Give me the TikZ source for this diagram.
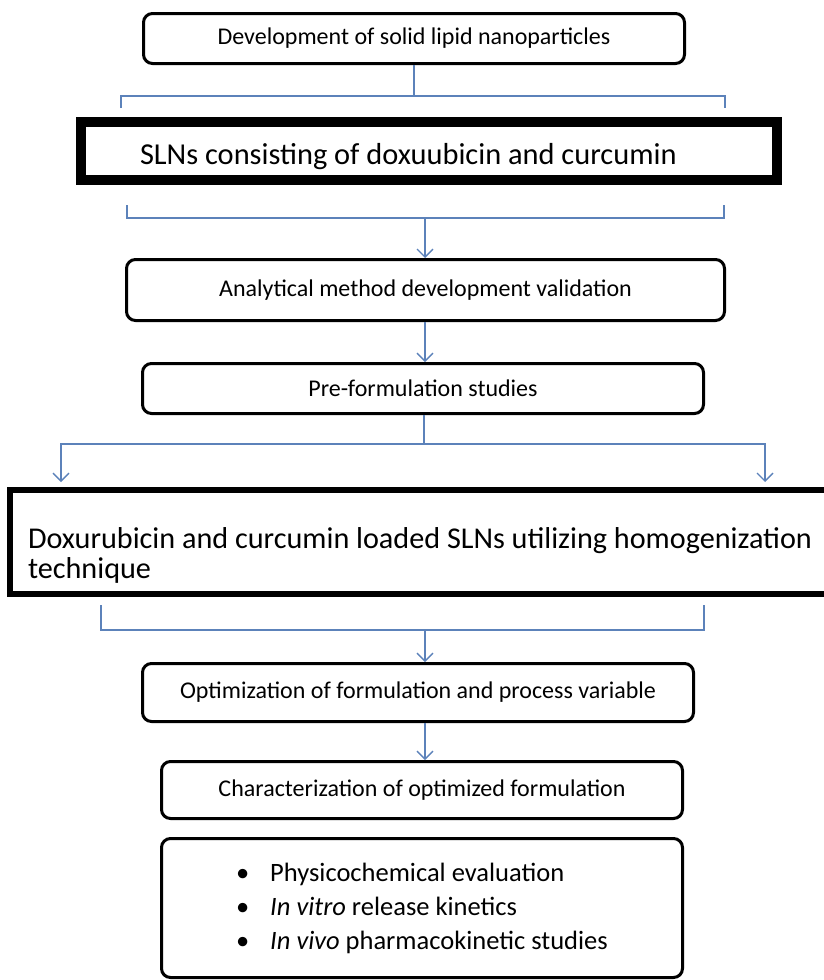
\documentclass[tikz,border=0pt]{standalone}
\usepackage{fontspec}
\setmainfont{Carlito}
\usetikzlibrary{arrows.meta, positioning}
\definecolor{linkblue}{RGB}{92,130,186}

\begin{document}
\begin{tikzpicture}[x=1pt, y=-1pt,
    stage/.style={rectangle, draw, rounded corners=9pt, line width=3pt, inner sep=0pt,
      font=\fontsize{24}{28}\selectfont},
    bigstage/.style={rectangle, draw, line width=10pt, inner ysep=0pt, align=flush left},
    link/.style={draw=linkblue, line width=1.4pt},
    >={Straight Barb[length=8pt, width=16pt]}
    ]
    \useasboundingbox (0,0) rectangle (824,980);

    \node[stage, minimum width=541pt, minimum height=50pt] (devel) at (414,38.5)
      {Development of solid lipid nanoparticles};
    \node[bigstage, below=52pt of devel, xshift=15pt, minimum height=58pt,
      inner xsep=59pt, text width=578pt, font=\fontsize{30.4}{34}\selectfont] (sln)
      {\rule{0pt}{33pt}SLNs consisting of doxuubicin and curcumin};
    \node[stage, below=73pt of sln, xshift=-3.5pt, minimum width=598pt, minimum height=61pt] (method)
      {Analytical method development validation};
    \node[stage, below=40pt of method, xshift=-2.5pt, minimum width=561pt, minimum height=50pt] (prefo)
      {Pre-formulation studies};
    \node[bigstage, line width=6pt, below=72pt of prefo, xshift=10pt, minimum height=104pt,
      inner xsep=18pt, text width=810pt, font=\fontsize{30.2}{30}\selectfont] (loaded)
      {\rule{0pt}{48pt}Doxurubicin and curcumin loaded SLNs utilizing homogenization\\technique};
    \node[stage, below=65pt of loaded, xshift=-15pt, minimum width=551pt, minimum height=58pt] (optim)
      {Optimization of formulation and process variable};
    \node[stage, below=37pt of optim, xshift=4pt, minimum width=521pt, minimum height=57pt] (charac)
      {Characterization of optimized formulation};
    \node[stage, below=17pt of charac, minimum width=521pt, minimum height=139pt, align=left,
      font=\fontsize{26.5}{34}\selectfont] (evals)
      {\makebox[34pt][l]{\textbullet}Physicochemical evaluation\\
       \makebox[34pt][l]{\textbullet}\textit{In vitro} release kinetics\\
       \makebox[34pt][l]{\textbullet}\textit{In vivo} pharmacokinetic studies};

    % brackets and forks
    \coordinate (topfork) at (devel.south |- 0,96);
    \coordinate (midfork) at (425,218);
    \coordinate (split) at (424,444);
    \coordinate (leftend) at (61,482);
    \coordinate (rightend) at (765,482);
    \coordinate (lowfork) at (425,630);

    \draw[link] (devel) -- (topfork);
    \draw[link] (121,108) -- (121,96) -- (725,96) -- (725,108);
    \draw[link] (127,205) -- (127,218) -- (724,218) -- (724,205);
    \draw[link, ->] (midfork) -- (midfork |- method.north);
    \draw[link, ->] (method.south -| midfork) -- (prefo.north -| midfork);
    \draw[link] (prefo.south -| split) -- (split);
    \draw[link, ->] (split) -| (leftend);
    \draw[link, ->] (split) -| (rightend);
    \draw[link] (101,605) -- (101,630) -- (704,630) -- (704,605);
    \draw[link, ->] (lowfork) -- (lowfork |- optim.north);
    \draw[link, ->] (optim.south -| lowfork) -- (charac.north -| lowfork);
\end{tikzpicture}
\end{document}
